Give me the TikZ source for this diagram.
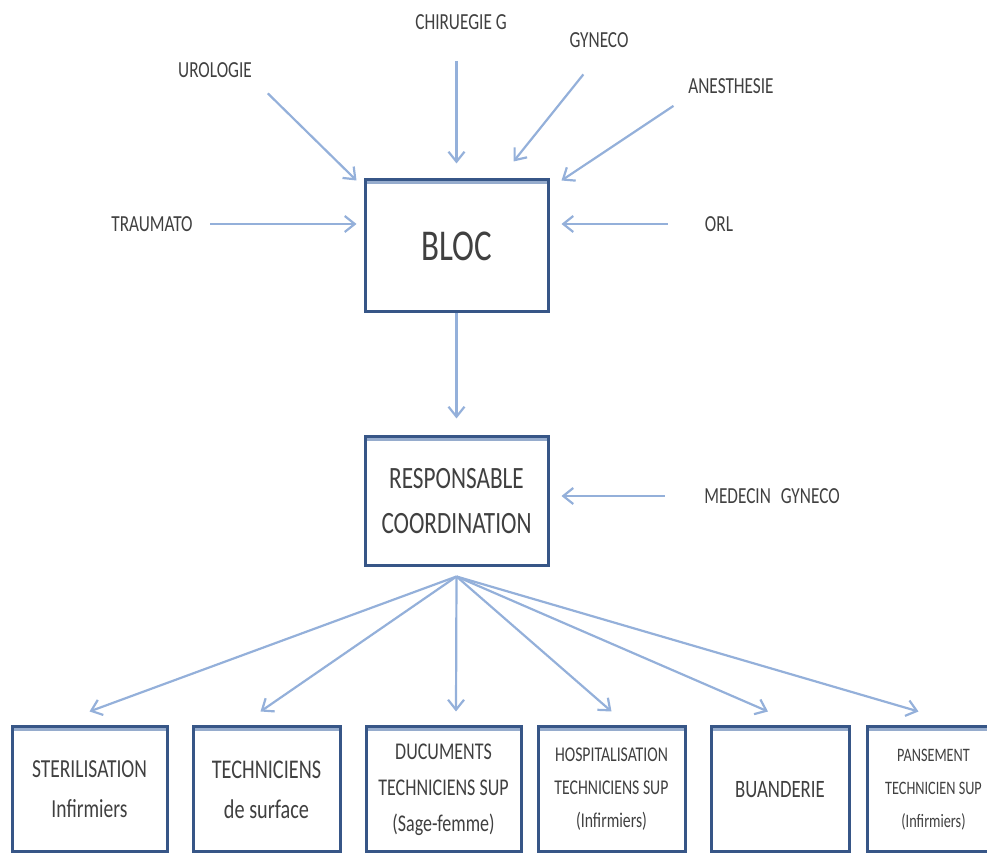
\documentclass[tikz,border=0pt]{standalone}
\usepackage{fontspec}
\setmainfont{Carlito}[FakeStretch=0.75]
\usepackage{tikz}
\usetikzlibrary{arrows.meta,calc}
\definecolor{boxblue}{RGB}{55,86,135}
\definecolor{boxlight}{RGB}{150,172,205}
\definecolor{arrowblue}{RGB}{148,176,218}
\tikzset{
  box/.style={draw=boxblue, line width=1.5pt, fill=white, align=center, inner sep=0pt, text=black!75,
    path picture={\draw[boxlight, line width=1.5pt]
      ([yshift=-1.5pt]path picture bounding box.north west) -- ([yshift=-1.5pt]path picture bounding box.north east);}},
  bot/.style={box, minimum height=62.5pt},
  lbl/.style={font=\fontsize{11.5}{13}\selectfont, text=black!75, inner sep=3.5pt},
  arr/.style={draw=arrowblue, line width=1.1pt, -{Straight Barb[length=5pt,width=8pt]}},
}

\begin{document}
\begin{tikzpicture}[x=0.5pt,y=-0.5pt]
    \useasboundingbox (0,0) rectangle (987,854);
    % main boxes
    \node[box, minimum width=91.5pt, minimum height=66pt, font=\fontsize{22}{26}\selectfont] (bloc) at (456.5,246) {BLOC};
    \node[box, minimum width=91.5pt, minimum height=64.5pt, font=\fontsize{15.5}{22.5}\selectfont] (resp) at (456.5,501.5) {RESPONSABLE\\COORDINATION};
    % services
    \node[bot, minimum width=77.5pt, font=\fontsize{13}{20}\selectfont] (ster) at (89.5,789.5) {STERILISATION\\Infirmiers};
    \node[bot, minimum width=73.5pt, font=\fontsize{13.5}{20}\selectfont] (tech) at (266.5,789.5) {TECHNICIENS\\de surface};
    \node[bot, minimum width=77.5pt, font=\fontsize{12}{18}\selectfont] (docs) at (443.5,789.5) {DUCUMENTS\\TECHNICIENS SUP\\(Sage-femme)};
    \node[bot, minimum width=73.5pt, font=\fontsize{10.5}{16.5}\selectfont] (hosp) at (611.5,789.5) {HOSPITALISATION\\TECHNICIENS SUP\\(Infirmiers)};
    \node[bot, minimum width=69pt, font=\fontsize{12.5}{18}\selectfont] (buand) at (780,789.5) {BUANDERIE};
    \node[bot, minimum width=66.5pt, font=\fontsize{9.5}{16.5}\selectfont] (pans) at (933.5,789.5) {PANSEMENT\\TECHNICIEN SUP\\(Infirmiers)};
    % specialites
    \node[lbl] (chir) at (461,22) {CHIRUEGIE G};
    \node[lbl] (urol) at (215,70) {UROLOGIE};
    \node[lbl] (gyn) at (599,40) {GYNECO};
    \node[lbl] (anes) at (731,86) {ANESTHESIE};
    \node[lbl] (trau) at (152,224) {TRAUMATO};
    \node[lbl] (orl) at (719,224) {ORL};
    \node[lbl] (med) at (772,496) {MEDECIN\hspace{3pt} GYNECO};

    \draw[arr, shorten <=12pt] (chir.south -| bloc.north) -- ($(bloc.north)+(0,-15)$);
    \draw[arr, shorten <=6pt] (urol.south east) -- ($(bloc.north west)+(-7,2)$);
    \draw[arr, shorten <=12.5pt] (gyn.south) -- ($(bloc.north)+(57,-17)$);
    \draw[arr, shorten <=4.5pt] (anes.south west) -- ($(bloc.north east)+(12,2)$);
    \draw[arr, shorten <=5pt, shorten >=3.5pt] (trau.east) -- (trau.east -| bloc.west);
    \draw[arr, shorten <=15pt, shorten >=6pt] (orl.west) -- (orl.west -| bloc.east);
    \draw[arr, shorten >=8.5pt] (bloc.south) -- (resp.north);
    \draw[arr, shorten <=16pt, shorten >=6pt] (med.west) -- (med.west -| resp.east);

    \coordinate (fan) at ($(resp.south)+(0,9)$);
    \foreach \t/\dx in {ster/0, tech/-6, docs/12.5, hosp/0, buand/-12, pans/-15}
        \draw[arr] (fan) -- ($(\t.north)+(\dx,-14)$);
\end{tikzpicture}
\end{document}
